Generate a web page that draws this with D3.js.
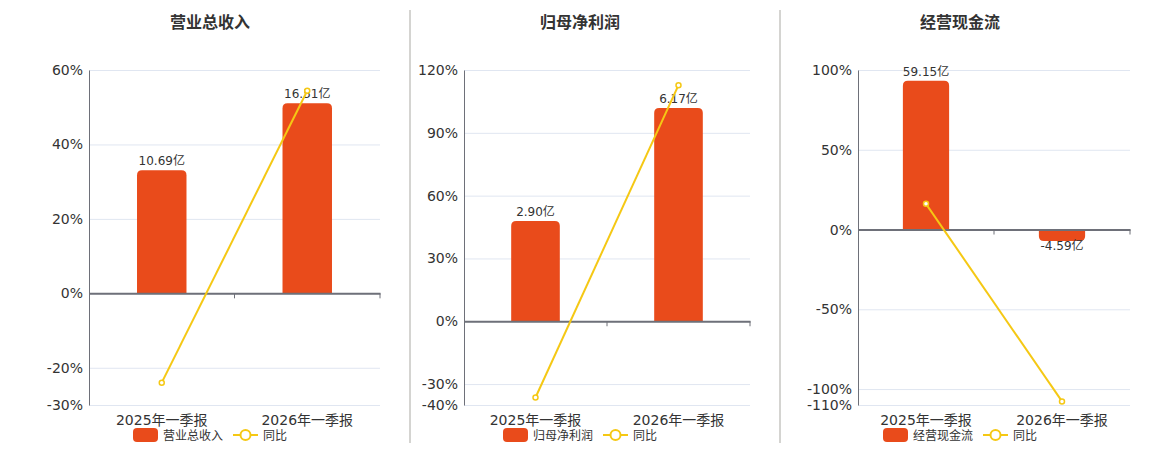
<!DOCTYPE html>
<html>
<head>
<meta charset="utf-8">
<script src="https://cdn.jsdelivr.net/npm/d3@7"></script>
<style>
	body { margin: 0; background: #fff; font-family: "DejaVu Sans", "Noto Sans CJK SC", sans-serif; }
	.tick-label { font-size: 14px; fill: #333; }
	.bar-label { font-size: 12px; fill: #333; }
	.legend-item { font-size: 12px; fill: #333; font-family: "Noto Sans CJK SC", sans-serif; }
	.chart-title { font-size: 16px; font-weight: bold; fill: #333; font-family: "Noto Sans CJK SC", sans-serif; }
</style>
</head>
<body>
<svg id="chart"></svg>
<script>
// data
const categories = ["2025年一季报", "2026年一季报"]
const titles = ["营业总收入", "归母净利润", "经营现金流"]
const amounts = [[10.69, 16.51], [2.90, 6.17], [59.15, -4.59]]      // 亿
const amountLabels = [["10.69亿", "16.51亿"], ["2.90亿", "6.17亿"], ["59.15亿", "-4.59亿"]]
const growth = [[-24.0, 54.44], [-36.4, 112.76], [16.1, -107.76]]   // %
const pctTicks = [[60, 40, 20, 0, -20, -30], [120, 90, 60, 30, 0, -30, -40], [100, 50, 0, -50, -100, -110]]
const amountAxisMax = [19.4, 7.27, 63.4]

const barColor = "#E94B1B"
const lineColor = "#F5C814"

const viewWidth = 1160
const viewHeight = 450

// panel layout
const panels = [
	{ left: 89, right: 380, center: 210 },
	{ left: 464, right: 750, center: 580 },
	{ left: 858, right: 1130, center: 960 }
]
const plotTop = 70, plotBottom = 405

const svg = d3.select("#chart")
	.attr("width", viewWidth)
	.attr("height", viewHeight)

// dividers
svg.selectAll("line.divider")
	.data([410, 780])
	.enter()
	.append("line")
	.attr("class", "divider")
	.attr("x1", d => d).attr("x2", d => d)
	.attr("y1", 10).attr("y2", 443)
	.attr("stroke", "#aaa9a3")
	.attr("stroke-width", 1)

function drawPanel(i) {
	const p = panels[i]
	const g = svg.append("g")
	const ticks = pctTicks[i]
	const pMin = d3.min(ticks), pMax = d3.max(ticks)

	const x = d3.scaleBand()
		.domain(categories)
		.range([p.left, p.right])

	const y = d3.scaleLinear()
		.domain([pMin, pMax])
		.range([plotBottom, plotTop])

	// hidden amount axis, zero aligned with percentage axis
	const yAmt = d3.scaleLinear()
		.domain([amountAxisMax[i] * pMin / pMax, amountAxisMax[i]])
		.range([plotBottom, plotTop])

	g.append("text")
		.attr("class", "chart-title")
		.attr("x", p.center)
		.attr("y", 28)
		.attr("text-anchor", "middle")
		.text(titles[i])

	// grid
	g.selectAll("line.grid")
		.data(ticks)
		.enter()
		.append("line")
		.attr("x1", p.left).attr("x2", p.right)
		.attr("y1", d => y(d) + 0.5).attr("y2", d => y(d) + 0.5)
		.attr("stroke", "#e0e6f1")

	// y axis
	const yAxis = g.append("g")
		.attr("transform", "translate(" + p.left + ",0)")
		.call(d3.axisLeft(y).tickValues(ticks).tickSize(0).tickPadding(6).tickFormat(d => d + "%"))
	yAxis.select(".domain").attr("stroke", "#6E7079")
	yAxis.selectAll("text").attr("class", "tick-label")
	yAxis.attr("font-family", null).attr("font-size", null)

	// bars
	const bw = x.bandwidth() * 0.34
	const r = 5
	g.selectAll("path.bar")
		.data(amounts[i])
		.enter()
		.append("path")
		.attr("fill", barColor)
		.attr("d", function (d, j) {
			const cx = x(categories[j]) + x.bandwidth() / 2
			const x0 = cx - bw / 2, x1 = cx + bw / 2
			const y0 = yAmt(0), y1 = yAmt(d)
			const s = d >= 0 ? 1 : -1
			const rr = Math.min(r, Math.abs(y0 - y1))
			return "M" + x0 + "," + y0 +
				"L" + x0 + "," + (y1 + s * rr) +
				"Q" + x0 + "," + y1 + " " + (x0 + rr) + "," + y1 +
				"L" + (x1 - rr) + "," + y1 +
				"Q" + x1 + "," + y1 + " " + x1 + "," + (y1 + s * rr) +
				"L" + x1 + "," + y0 + "Z"
		})

	g.selectAll("text.bar-label")
		.data(amounts[i])
		.enter()
		.append("text")
		.attr("class", "bar-label")
		.attr("x", (d, j) => x(categories[j]) + x.bandwidth() / 2)
		.attr("y", d => d >= 0 ? yAmt(d) - 5 : yAmt(d) + 9)
		.attr("text-anchor", "middle")
		.text((d, j) => amountLabels[i][j])

	// zero axis
	const xAxis = g.append("g")
		.attr("transform", "translate(0," + y(0) + ")")
		.call(d3.axisBottom(x).tickSize(0).tickFormat(""))
	xAxis.select(".domain").attr("stroke", "#6E7079").attr("stroke-width", 2)
	g.selectAll("line.xtick")
		.data([x(categories[1]), p.right])
		.enter()
		.append("line")
		.attr("x1", d => d).attr("x2", d => d)
		.attr("y1", y(0)).attr("y2", y(0) + 5)
		.attr("stroke", "#6E7079")

	// category labels
	g.selectAll("text.cat")
		.data(categories)
		.enter()
		.append("text")
		.attr("class", "tick-label")
		.attr("x", d => x(d) + x.bandwidth() / 2)
		.attr("y", 425)
		.attr("text-anchor", "middle")
		.text(d => d)

	// growth line
	const line = d3.line()
		.x((d, j) => x(categories[j]) + x.bandwidth() / 2)
		.y(d => y(d))
	g.append("path")
		.datum(growth[i])
		.attr("d", line)
		.attr("fill", "none")
		.attr("stroke", lineColor)
		.attr("stroke-width", 2)
	g.selectAll("circle.pt")
		.data(growth[i])
		.enter()
		.append("circle")
		.attr("cx", (d, j) => x(categories[j]) + x.bandwidth() / 2)
		.attr("cy", d => y(d))
		.attr("r", 2.5)
		.attr("fill", "#fff")
		.attr("stroke", lineColor)
		.attr("stroke-width", 1.5)

	// legend
	const lg = g.append("g").attr("transform", "translate(" + (p.center - 77) + ",428)")
	lg.append("rect")
		.attr("width", 25).attr("height", 14).attr("rx", 4)
		.attr("fill", barColor)
	lg.append("text")
		.attr("class", "legend-item")
		.attr("x", 30).attr("y", 12)
		.text(titles[i])
	const lx = 30 + titles[i].length * 12 + 10
	lg.append("line")
		.attr("x1", lx).attr("x2", lx + 25)
		.attr("y1", 7).attr("y2", 7)
		.attr("stroke", lineColor).attr("stroke-width", 2)
	lg.append("circle")
		.attr("cx", lx + 12.5).attr("cy", 7).attr("r", 5)
		.attr("fill", "#fff").attr("stroke", lineColor).attr("stroke-width", 2)
	lg.append("text")
		.attr("class", "legend-item")
		.attr("x", lx + 30).attr("y", 12)
		.text("同比")
}

titles.forEach((t, i) => drawPanel(i))
</script>
</body>
</html>
